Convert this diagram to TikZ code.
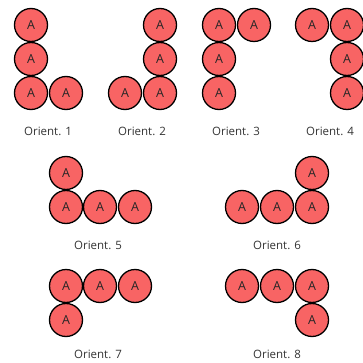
\documentclass[tikz,border=0pt]{standalone}
\usepackage{fontspec}
\setmainfont{Open Sans}
\definecolor{ballfill}{HTML}{F86464}
\definecolor{labelgray}{HTML}{333333}
\tikzset{
  ball/.style={circle, draw=black, line width=1.3pt, fill=ballfill,
    minimum size=33pt, inner sep=0pt, font=\fontsize{12.5}{13}\selectfont, text=black!85},
  caption/.style={font=\fontsize{11.5}{13}\selectfont, text=labelgray}
}
\begin{document}
\begin{tikzpicture}[x=1pt,y=-1pt]
\useasboundingbox (0,0) rectangle (363,363);
% Orient. 1
\node[ball] (a1) at (31,25) {A};
\node[ball] (a2) at (31,59) {A};
\node[ball] (a3) at (31,93) {A};
\node[ball] (a4) at (66,93) {A};
\node[caption] (l1) at (48,131) {Orient. 1};
% Orient. 2
\node[ball] (b1) at (160,25) {A};
\node[ball] (b2) at (160,59) {A};
\node[ball] (b3) at (160,93) {A};
\node[ball] (b4) at (125,93) {A};
\node[caption] (l2) at (142,131) {Orient. 2};
% Orient. 3
\node[ball] (c1) at (219,25) {A};
\node[ball] (c2) at (219,59) {A};
\node[ball] (c3) at (219,93) {A};
\node[ball] (c4) at (254,25) {A};
\node[caption] (l3) at (236,131) {Orient. 3};
% Orient. 4
\node[ball] (d1) at (347,25) {A};
\node[ball] (d2) at (347,59) {A};
\node[ball] (d3) at (347,93) {A};
\node[ball] (d4) at (312,25) {A};
\node[caption] (l4) at (330,131) {Orient. 4};
% Orient. 5
\node[ball] (e1) at (66,173) {A};
\node[ball] (e2) at (66,207) {A};
\node[ball] (e3) at (100,207) {A};
\node[ball] (e4) at (135,207) {A};
\node[caption] (l5) at (98,245) {Orient. 5};
% Orient. 6
\node[ball] (f1) at (242,207) {A};
\node[ball] (f2) at (277,207) {A};
\node[ball] (f3) at (312,207) {A};
\node[ball] (f4) at (312,173) {A};
\node[caption] (l6) at (277,245) {Orient. 6};
% Orient. 7
\node[ball] (g1) at (66,286) {A};
\node[ball] (g2) at (100,286) {A};
\node[ball] (g3) at (135,286) {A};
\node[ball] (g4) at (66,320) {A};
\node[caption] (l7) at (98,354) {Orient. 7};
% Orient. 8
\node[ball] (h1) at (242,286) {A};
\node[ball] (h2) at (277,286) {A};
\node[ball] (h3) at (312,286) {A};
\node[ball] (h4) at (312,320) {A};
\node[caption] (l8) at (277,354) {Orient. 8};
\end{tikzpicture}
\end{document}
